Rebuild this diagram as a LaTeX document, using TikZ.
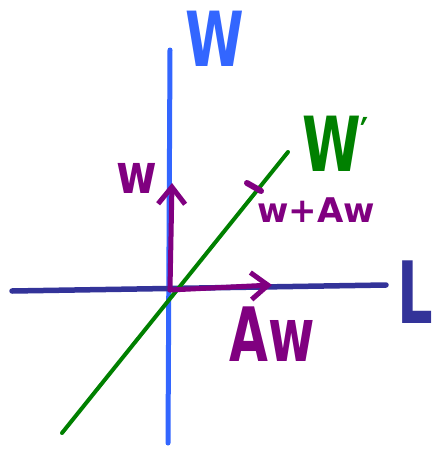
\documentclass[tikz,border=0pt]{standalone}
\usepackage{fontspec}
\setmainfont{DejaVu Sans}
\usetikzlibrary{arrows.meta}
\definecolor{wblue}{HTML}{3366FF}
\definecolor{lblue}{HTML}{333399}
\definecolor{wgreen}{HTML}{008000}
\definecolor{vpurple}{HTML}{800080}
\begin{document}
\begin{tikzpicture}[x=1pt, y=-1pt, line cap=round, line join=round,
  every node/.style={inner sep=0pt, font=\bfseries},
  vecarrow/.style={-{Straight Barb[length=17pt, width=27pt]}, line width=5pt, color=vpurple},
  bigW/.style={font=\fontsize{76}{76}\selectfont\bfseries, xscale=0.7}]
  \useasboundingbox (0,0) rectangle (433,450);

  \coordinate (origin) at (170,290);
  \coordinate (wtop) at (170,50);
  \coordinate (wbot) at (168,443);
  \coordinate (lleft) at (12,291);
  \coordinate (lright) at (386,285);
  \coordinate (gbot) at (62,433);
  \coordinate (gtop) at (288,152);
  \coordinate (wtip) at (172,183);
  \coordinate (awtip) at (272,285);

  % the subspaces
  \draw[line width=5pt, wblue] (wbot) -- (wtop);
  \draw[line width=5.5pt, lblue] (lleft) -- (lright);
  \draw[line width=4pt, wgreen] (gbot) -- (gtop);

  % the vectors
  \draw[vecarrow] (origin) -- (wtip);
  \draw[vecarrow] (origin) -- (awtip);
  \coordinate (sumA) at (247,183);
  \coordinate (sumB) at (261,191);
  \draw[line width=6pt, vpurple] (sumA) -- (sumB);

  % labels
  \node[bigW, text=wblue] (wlabel) at (215,39) {W};
  \node[bigW, text=wgreen, anchor=west] (wprime) at (302,144) {W\raisebox{22pt}{\fontsize{44}{44}\selectfont′}};
  \node[font=\fontsize{86}{86}\selectfont\bfseries, xscale=0.65, text=lblue] (llabel) at (415,292) {L};
  \node[font=\fontsize{55}{55}\selectfont\bfseries, xscale=0.8, text=vpurple] (wname) at (137,178) {w};
  \node[font=\fontsize{34}{34}\selectfont\bfseries, text=vpurple] (sumname) at (316,210) {w+Aw};
  \node[font=\fontsize{75}{75}\selectfont\bfseries, xscale=0.67, text=vpurple] (awname) at (272,334) {Aw};
\end{tikzpicture}
\end{document}
